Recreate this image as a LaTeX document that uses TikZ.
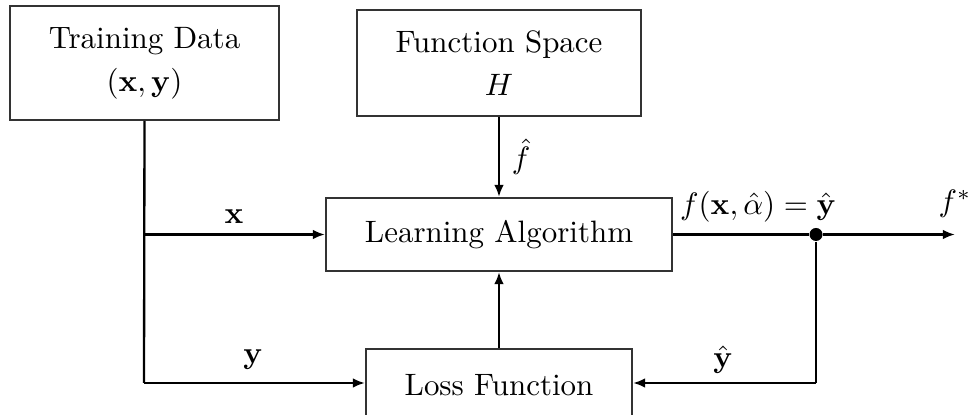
\documentclass[tikz,border=0pt]{standalone}
\usetikzlibrary{arrows.meta}
\begin{document}
\begin{tikzpicture}[x=0.323pt,y=-0.323pt,
  blk/.style={draw=black!80,line width=0.65pt,rectangle,align=center,inner sep=0pt},
  arr/.style={line width=0.75pt,-{Latex[length=3.9pt,width=3.1pt]}},
  ln/.style={line width=0.75pt},
  lbl/.style={inner sep=0pt}]
\useasboundingbox (0,0) rectangle (971,415);
\node[blk,minimum width={269*0.323pt},minimum height={114*0.323pt}] (train) at (144.5,63) {Training Data\\[2pt]$(\mathbf{x},\mathbf{y})$};
\node[blk,minimum width={284*0.323pt},minimum height={106*0.323pt}] (fs) at (499,63) {Function Space\\[2pt]$H$};
\node[blk,minimum width={346*0.323pt},minimum height={73*0.323pt}] (la) at (499,234.5) {Learning Algorithm};
\node[blk,minimum width={266*0.323pt},minimum height={72*0.323pt}] (loss) at (499,385) {Loss Function};
\coordinate (bx) at (train.south |- la.west);
\coordinate (by) at (144,383);
\node[circle,fill=black,inner sep=0pt,minimum size=4.2pt] (dot) at (816,234.5) {};
\coordinate (out) at (955,234.5);
\coordinate (fb) at (816,383);
\coordinate (lossin) at (loss.east |- fb);
\coordinate (lossy) at (loss.west |- by);
\draw[ln] (train.south) -- (by);
\draw[arr] (by) -- (lossy);
\draw[arr] (bx) -- (la.west);
\draw[arr] (fs.south) -- (la.north);
\draw[arr] (loss.north) -- (la.south);
\draw[ln] (la.east) -- (dot);
\draw[arr] (dot) -- (out);
\draw[ln] (dot) -- (fb);
\draw[arr] (fb) -- (lossin);
\node[lbl] (lx) at (234,217) {$\mathbf{x}$};
\node[lbl] (ly) at (253,360) {$\mathbf{y}$};
\node[lbl] (lf) at (521,157) {$\hat{f}$};
\node[lbl] (lout) at (758,207) {$f(\mathbf{x},\hat{\alpha})=\hat{\mathbf{y}}$};
\node[lbl] (lstar) at (955,204) {$f^*$};
\node[lbl] (lyh) at (723,360) {$\hat{\mathbf{y}}$};
\end{tikzpicture}
\end{document}
